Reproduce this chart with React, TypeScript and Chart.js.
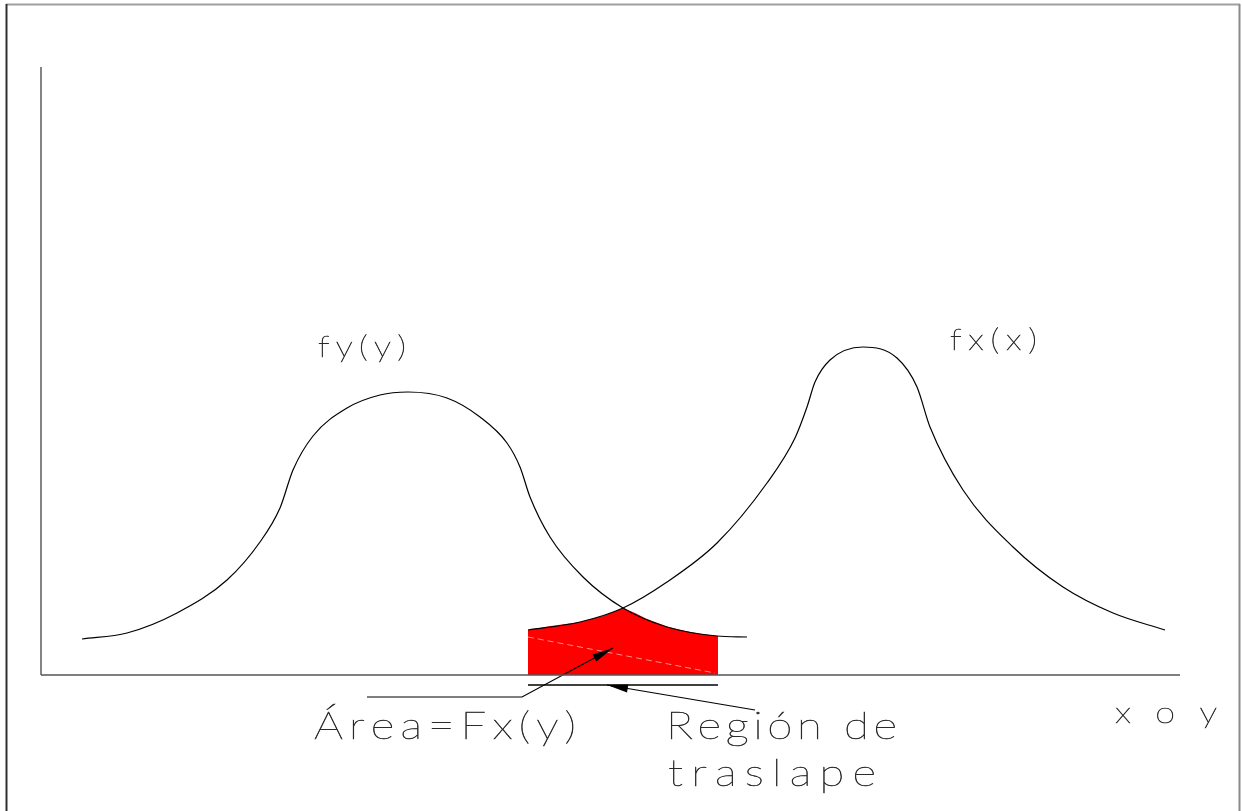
import React, { useEffect, useRef } from "react";
import { Chart, registerables } from "chart.js";

Chart.register(...registerables);

// Values (x: distance from the vertical axis, y: height above the horizontal axis)
const fyX = [41, 86, 136, 186, 219, 239, 252, 272, 306, 339, 367, 406, 439, 466, 479, 489, 509, 542, 582, 626, 676, 706];
const fyY = [36, 42, 62, 95, 133, 167, 205, 239, 267, 280, 283, 277, 258, 232, 208, 178, 138, 98, 67, 48, 39, 38];

const fxX = [487, 539, 582, 626, 676, 726, 754, 766, 774, 789, 822, 856, 876, 889, 922, 972, 1022, 1072, 1124];
const fxY = [45, 53, 67, 93, 132, 192, 237, 268, 293, 315, 328, 317, 288, 248, 185, 128, 88, 62, 45];

const overlapX = [487, 510, 539, 562, 582, 594, 606, 626, 642, 660, 677];
const overlapY = [45, 49, 53, 59, 67, 62, 56, 48.5, 44.5, 41, 39];

const axisXX = [0, 1139];
const axisXY = [0, 0];
const axisYX = [0, 0];
const axisYY = [0, 608];

const hatchX = [487, 674];
const hatchY = [38, 2];

const leaderAX = [326, 481, 572];
const leaderAY = [-22, -22, 27];
const underX = [487, 677];
const underY = [-10, -10];
const leaderBX = [714, 566];
const leaderBY = [-35, -10];

const labelTexts = ["fy(y)", "fx(x)", "Área=Fx(y)", "Región de", "traslape", "x o y"];
const labelX = [277, 909, 273, 625, 627, 1074];
const labelY = [318, 325, -64, -64, -111, -48];
const labelW = [88, 87, 262, 231, 208, 102];
const labelSize = [29, 29, 38, 38, 38, 30];

const zip = (xs: number[], ys: number[]) => xs.map((x, i) => ({ x, y: ys[i] }));

const FONT = "Lato";
const STRETCH = 1.2;

const decorPlugin = {
  id: "decor",
  beforeDraw(chart: any) {
    const ctx = chart.ctx;
    ctx.save();
    ctx.fillStyle = "#ffffff";
    ctx.fillRect(0, 0, chart.width, chart.height);
    ctx.lineWidth = 2;
    ctx.strokeStyle = "#a0a0a0";
    ctx.beginPath();
    ctx.moveTo(6, 4.5);
    ctx.lineTo(1240, 4.5);
    ctx.stroke();
    ctx.strokeStyle = "#303030";
    ctx.beginPath();
    ctx.moveTo(6.5, 4);
    ctx.lineTo(6.5, chart.height);
    ctx.stroke();
    ctx.strokeStyle = "#8a8a8a";
    ctx.beginPath();
    ctx.moveTo(1239.5, 4);
    ctx.lineTo(1239.5, chart.height);
    ctx.stroke();
    ctx.restore();
  },
  afterDatasetsDraw(chart: any) {
    const ctx = chart.ctx;
    const xs = chart.scales.x;
    const ys = chart.scales.y;
    const arrow = (ax: number[], ay: number[]) => {
      const n = ax.length;
      const tx = xs.getPixelForValue(ax[n - 1]);
      const ty = ys.getPixelForValue(ay[n - 1]);
      const px = xs.getPixelForValue(ax[n - 2]);
      const py = ys.getPixelForValue(ay[n - 2]);
      const dx = tx - px;
      const dy = ty - py;
      const len = Math.hypot(dx, dy);
      const ux = dx / len;
      const uy = dy / len;
      const L = 21;
      const W = 4;
      const bx = tx - ux * L;
      const by = ty - uy * L;
      ctx.save();
      ctx.fillStyle = "#000";
      ctx.beginPath();
      ctx.moveTo(tx, ty);
      ctx.lineTo(bx - uy * W, by + ux * W);
      ctx.lineTo(bx + uy * W, by - ux * W);
      ctx.closePath();
      ctx.fill();
      ctx.restore();
    };
    arrow(leaderAX, leaderAY);
    arrow(leaderBX, leaderBY);
  },
  afterDraw(chart: any) {
    const ctx = chart.ctx;
    const xs = chart.scales.x;
    const ys = chart.scales.y;
    ctx.save();
    ctx.fillStyle = "#2a2a2a";
    ctx.strokeStyle = "#2a2a2a";
    ctx.lineWidth = 0.55;
    ctx.textBaseline = "alphabetic";
    ctx.textAlign = "left";
    labelTexts.forEach((t, i) => {
      ctx.font = `100 ${labelSize[i]}px ${FONT}`;
      const chars = Array.from(t);
      const widths = chars.map((c) => ctx.measureText(c).width * STRETCH);
      const total = widths.reduce((a, b) => a + b, 0);
      const gap = chars.length > 1 ? (labelW[i] - total) / (chars.length - 1) : 0;
      let x = xs.getPixelForValue(labelX[i]);
      const y = ys.getPixelForValue(labelY[i]);
      chars.forEach((c, k) => {
        ctx.save();
        ctx.translate(x, y);
        ctx.scale(STRETCH, 1);
        ctx.fillText(c, 0, 0);
        ctx.strokeText(c, 0, 0);
        ctx.restore();
        x += widths[k] + gap;
      });
    });
    ctx.restore();
  },
};

export default function App() {
  const ref = useRef<HTMLCanvasElement | null>(null);

  useEffect(() => {
    document.body.style.margin = "0";
    if (!ref.current) return;
    const line = (data: any[], extra: any = {}) => ({
      type: "line",
      data,
      showLine: true,
      borderColor: "#000000",
      borderWidth: 1.2,
      pointRadius: 0,
      pointHoverRadius: 0,
      fill: false,
      tension: 0,
      ...extra,
    });
    const chart = new Chart(ref.current, {
      type: "scatter",
      data: {
        datasets: [
          line(zip(fyX, fyY), { cubicInterpolationMode: "monotone", label: "fy(y)" }),
          line(zip(fxX, fxY), { cubicInterpolationMode: "monotone", label: "fx(x)" }),
          line(zip(axisXX, axisXY), { borderColor: "#555555", borderWidth: 1.6 }),
          line(zip(axisYX, axisYY), { borderColor: "#666666", borderWidth: 1.6 }),
          line(zip(leaderAX, leaderAY), { borderWidth: 1.2 }),
          line(zip(underX, underY), { borderWidth: 1.4 }),
          line(zip(leaderBX, leaderBY), { borderWidth: 1.2 }),
          line(zip(hatchX, hatchY), {
            borderColor: "rgba(255,255,255,0.55)",
            borderWidth: 1,
            borderDash: [6, 4],
          }),
          line(zip(overlapX, overlapY), {
            borderColor: "rgba(0,0,0,0)",
            borderWidth: 0,
            backgroundColor: "#ff0000",
            fill: { value: 0 },
          }),
        ],
      },
      options: {
        animation: false,
        responsive: false,
        events: [],
        layout: { padding: 0 },
        plugins: {
          legend: { display: false },
          tooltip: { enabled: false },
          title: { display: false },
        },
        scales: {
          x: { type: "linear", min: -41, max: 1201, display: false },
          y: { type: "linear", min: -136, max: 675, display: false },
        },
      } as any,
      plugins: [decorPlugin],
    } as any);
    return () => chart.destroy();
  }, []);

  return (
    <div style={{ position: "absolute", left: 0, top: 0, width: 1242, height: 811 }}>
      <canvas ref={ref} width={1242} height={811} style={{ width: 1242, height: 811, display: "block" }} />
    </div>
  );
}
